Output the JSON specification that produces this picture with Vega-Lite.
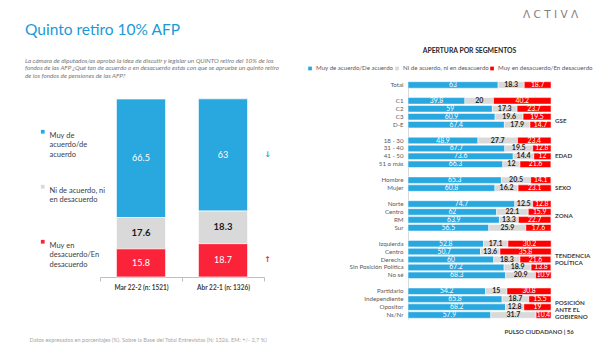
{
  "$schema": "https://vega.github.io/schema/vega-lite/v6.json",
  "background": "white",
  "padding": {"left": 25, "top": 10, "right": 6, "bottom": 6},
  "title": {"text": "Λ C T I V Λ", "anchor": "start", "frame": "group", "fontSize": 10.5, "color": "#808080", "font": "DejaVu Sans", "fontWeight": "normal", "offset": 2, "dx": 423},
  "bounds": "flush",
  "spacing": 144,
  "resolve": {"scale": {"color": "independent", "x": "independent", "y": "independent"}, "legend": {"color": "independent"}},
  "config": {"view": {"stroke": null}, "font": "Lato"},
  "hconcat": [
    {
      "width": 164,
      "height": 196,
      "title": {
        "text": "Quinto retiro 10% AFP",
        "subtitle": [
          "La cámara de diputados/as aprobó la idea de discutir y legislar un QUINTO retiro del 10% de los",
          "fondos de las AFP ¿Qué tan de acuerdo o en desacuerdo estás con que se apruebe un quinto retiro",
          "de los fondos de pensiones de las AFP?"
        ],
        "anchor": "start", "frame": "group", "dx": -75, "offset": 2,
        "fontSize": 15.5, "fontWeight": "normal", "color": "#1a9ad6",
        "subtitleFontSize": 6.3, "subtitleFontStyle": "italic", "subtitleColor": "#767676",
        "subtitleLineHeight": 7.3, "subtitlePadding": 20
      },
      "data": {"values": [
        {"period": "Mar 22-2 (n: 1521)", "cat": "Muy de acuerdo/de acuerdo", "v": 66.5, "sig": ""},
        {"period": "Mar 22-2 (n: 1521)", "cat": "Ni de acuerdo, ni en desacuerdo", "v": 17.6, "sig": ""},
        {"period": "Mar 22-2 (n: 1521)", "cat": "Muy en desacuerdo/En desacuerdo", "v": 15.8, "sig": ""},
        {"period": "Abr 22-1 (n: 1326)", "cat": "Muy de acuerdo/de acuerdo", "v": 63, "sig": "↓"},
        {"period": "Abr 22-1 (n: 1326)", "cat": "Ni de acuerdo, ni en desacuerdo", "v": 18.3, "sig": ""},
        {"period": "Abr 22-1 (n: 1326)", "cat": "Muy en desacuerdo/En desacuerdo", "v": 18.7, "sig": "↑"}
      ]},
      "transform": [
        {"calculate": "indexof(['Muy en desacuerdo/En desacuerdo','Ni de acuerdo, ni en desacuerdo','Muy de acuerdo/de acuerdo'], datum.cat)", "as": "ord"},
        {"stack": "v", "groupby": ["period"], "sort": [{"field": "ord", "order": "ascending"}], "as": ["v0", "v1"]},
        {"calculate": "(datum.v0 + datum.v1) / 2", "as": "mid"}
      ],
      "encoding": {
        "x": {
          "field": "period", "type": "nominal",
          "sort": ["Mar 22-2 (n: 1521)", "Abr 22-1 (n: 1326)"],
          "scale": {"paddingInner": 0, "paddingOuter": 0},
          "axis": {
            "title": "Datos expresados en porcentajes (%). Sobre la Base del Total Entrevistas (N: 1326. EM: +/- 2,7 %)",
            "labelAngle": 0, "labelFontSize": 6.5, "labelFontWeight": "bold", "labelColor": "#404040", "labelPadding": 3,
            "domainColor": "#bfbfbf", "tickColor": "#bfbfbf", "tickSize": 4, "tickBand": "extent",
            "titleX": -71, "titleY": 62, "titleAlign": "left", "titleAnchor": "start", "titleBaseline": "middle",
            "titleFontSize": 5.6, "titleFontWeight": "normal", "titleColor": "#a6a6a6"
          }
        }
      },
      "layer": [
        {
          "mark": {"type": "bar", "width": {"band": 0.6}, "stroke": "white", "strokeWidth": 0.7},
          "encoding": {
            "y": {"field": "v0", "type": "quantitative", "scale": {"domain": [0, 110], "nice": false}, "axis": null},
            "y2": {"field": "v1"},
            "color": {
              "field": "cat", "type": "nominal",
              "scale": {"domain": ["Muy de acuerdo/de acuerdo", "Ni de acuerdo, ni en desacuerdo", "Muy en desacuerdo/En desacuerdo"], "range": ["#29a8e0", "#d9d9d9", "#fa2339"]},
              "legend": {
                "orient": "none", "legendX": -61, "legendY": 47, "direction": "vertical", "title": null,
                "symbolType": "square", "symbolSize": 14, "symbolStrokeWidth": 0,
                "labelFontSize": 7.5, "labelColor": "#404040", "labelOffset": 3, "labelLimit": 0,
                "labelBaseline": "top", "rowPadding": 24,
                "labelExpr": "datum.label == 'Muy de acuerdo/de acuerdo' ? ['Muy de', 'acuerdo/de', 'acuerdo'] : datum.label == 'Ni de acuerdo, ni en desacuerdo' ? ['Ni de acuerdo, ni', 'en desacuerdo', ''] : ['Muy en', 'desacuerdo/En', 'desacuerdo']"
              }
            }
          }
        },
        {
          "transform": [{"filter": "datum.cat != 'Ni de acuerdo, ni en desacuerdo'"}],
          "mark": {"type": "text", "color": "white", "fontSize": 9, "baseline": "middle"},
          "encoding": {
            "y": {"field": "mid", "type": "quantitative"},
            "text": {"field": "v", "type": "nominal"}
          }
        },
        {
          "transform": [{"filter": "datum.cat == 'Ni de acuerdo, ni en desacuerdo'"}],
          "mark": {"type": "text", "color": "#1a1a1a", "fontSize": 9.5, "fontWeight": "bold", "baseline": "middle"},
          "encoding": {
            "y": {"field": "mid", "type": "quantitative"},
            "text": {"field": "v", "type": "nominal"}
          }
        },
        {
          "transform": [{"filter": "datum.sig != ''"}],
          "mark": {"type": "text", "dx": 44.5, "fontSize": 8, "fontWeight": "bold", "baseline": "middle", "font": "DejaVu Sans"},
          "encoding": {
            "y": {"field": "mid", "type": "quantitative"},
            "text": {"field": "sig", "type": "nominal"},
            "color": {"condition": {"test": "datum.sig == '↑'", "value": "#fa2339"}, "value": "#29a8e0"}
          }
        }
      ]
    },
    {
      "width": 143,
      "height": 238,
      "title": {"text": "APERTURA POR SEGMENTOS", "anchor": "middle", "frame": "group", "dx": -10, "fontSize": 6.8, "fontWeight": "bold", "color": "#262626", "offset": 10},
      "encoding": {
        "y": {
          "field": "seg", "type": "nominal",
          "scale": {
            "domain": ["Total", " ", "C1", "C2", "C3", "D-E", "  ", "18 - 30", "31 - 40", "41 - 50", "51 o más", "   ", "Hombre", "Mujer", "    ", "Norte", "Centro", "RM", "Sur", "     ", "Izquierda", "Centro ", "Derecha", "Sin Posición Política", "No sé", "      ", "Partidario", "Independiente", "Opositor", "Ns/Nr"],
            "paddingInner": 0.18, "paddingOuter": 0.09
          },
          "axis": {"title": null, "domainColor": "#d9d9d9", "ticks": false, "labelFontSize": 6.2, "labelColor": "#595959", "labelPadding": 5}
        }
      },
      "layer": [
        {
          "data": {"values": [
            {"seg": "Total", "a": 63, "n": 18.3, "d": 18.7},
            {"seg": "C1", "a": 39.8, "n": 20, "d": 40.2},
            {"seg": "C2", "a": 59, "n": 17.3, "d": 23.7},
            {"seg": "C3", "a": 60.9, "n": 19.6, "d": 19.5},
            {"seg": "D-E", "a": 67.4, "n": 17.9, "d": 14.7},
            {"seg": "18 - 30", "a": 48.9, "n": 27.7, "d": 23.4},
            {"seg": "31 - 40", "a": 67.7, "n": 19.5, "d": 12.8},
            {"seg": "41 - 50", "a": 73.6, "n": 14.4, "d": 12},
            {"seg": "51 o más", "a": 66.3, "n": 12, "d": 21.6},
            {"seg": "Hombre", "a": 65.3, "n": 20.5, "d": 14.1},
            {"seg": "Mujer", "a": 60.8, "n": 16.2, "d": 23.1},
            {"seg": "Norte", "a": 74.7, "n": 12.5, "d": 12.8},
            {"seg": "Centro", "a": 62, "n": 22.1, "d": 15.9},
            {"seg": "RM", "a": 63.9, "n": 13.3, "d": 22.7},
            {"seg": "Sur", "a": 56.5, "n": 25.9, "d": 17.6},
            {"seg": "Izquierda", "a": 52.8, "n": 17.1, "d": 30.2},
            {"seg": "Centro ", "a": 50.7, "n": 13.6, "d": 35.8},
            {"seg": "Derecha", "a": 60, "n": 18.3, "d": 21.6},
            {"seg": "Sin Posición Política", "a": 67.2, "n": 18.9, "d": 13.8},
            {"seg": "No sé", "a": 68.3, "n": 20.9, "d": 10.9},
            {"seg": "Partidario", "a": 54.2, "n": 15, "d": 30.8},
            {"seg": "Independiente", "a": 65.8, "n": 18.7, "d": 15.5},
            {"seg": "Opositor", "a": 68.2, "n": 12.8, "d": 19},
            {"seg": "Ns/Nr", "a": 57.9, "n": 31.7, "d": 10.4}
          ]},
          "transform": [
            {"fold": ["a", "n", "d"], "as": ["k", "v"]},
            {"calculate": "indexof(['a','n','d'], datum.k)", "as": "ord"},
            {"calculate": "datum.k == 'a' ? 'Muy de acuerdo/De acuerdo' : datum.k == 'n' ? 'Ni de acuerdo, ni en desacuerdo' : 'Muy en desacuerdo/En desacuerdo'", "as": "cat"},
            {"stack": "v", "groupby": ["seg"], "sort": [{"field": "ord", "order": "ascending"}], "as": ["v0", "v1"]},
            {"calculate": "(datum.v0 + datum.v1) / 2", "as": "mid"}
          ],
          "layer": [
            {
              "mark": {"type": "bar", "stroke": "white", "strokeWidth": 0.5},
              "encoding": {
                "x": {
                  "field": "v0", "type": "quantitative", "scale": {"domain": [0, 100], "nice": false},
                  "axis": {
                    "title": "PULSO CIUDADANO  |  56", "labels": false, "ticks": false, "domain": false, "grid": false,
                    "titleX": 96, "titleY": 12, "titleAlign": "left", "titleAnchor": "start", "titleBaseline": "middle",
                    "titleFontSize": 6, "titleFontWeight": "bold", "titleColor": "#404040"
                  }
                },
                "x2": {"field": "v1"},
                "color": {
                  "field": "cat", "type": "nominal",
                  "scale": {"domain": ["Muy de acuerdo/De acuerdo", "Ni de acuerdo, ni en desacuerdo", "Muy en desacuerdo/En desacuerdo"], "range": ["#29a8e0", "#d9d9d9", "#ff0000"]},
                  "legend": {
                    "orient": "none", "legendX": -101, "legendY": -16, "direction": "horizontal", "title": null,
                    "symbolType": "square", "symbolSize": 14, "symbolStrokeWidth": 0,
                    "labelFontSize": 6.1, "labelColor": "#595959", "labelOffset": 3, "columnPadding": 0, "labelLimit": 0
                  }
                }
              }
            },
            {
              "transform": [{"filter": "datum.k != 'n'"}],
              "mark": {"type": "text", "color": "white", "fontSize": 6.8, "baseline": "middle"},
              "encoding": {
                "x": {"field": "mid", "type": "quantitative"},
                "text": {"field": "v", "type": "nominal"}
              }
            },
            {
              "transform": [{"filter": "datum.k == 'n'"}],
              "mark": {"type": "text", "color": "#262626", "fontSize": 7, "fontWeight": "bold", "baseline": "middle"},
              "encoding": {
                "x": {"field": "mid", "type": "quantitative"},
                "text": {"field": "v", "type": "nominal"}
              }
            }
          ]
        },
        {
          "data": {"values": [
            {"grp": "GSE", "seg": "D-E"},
            {"grp": "EDAD", "seg": "41 - 50"},
            {"grp": "SEXO", "seg": "Mujer"},
            {"grp": "ZONA", "seg": "RM"},
            {"grp": "TENDENCIA\nPOLÍTICA", "seg": "Derecha"},
            {"grp": "POSICIÓN\nANTE EL\nGOBIERNO", "seg": "Opositor"}
          ]},
          "layer": [
            {
              "transform": [{"filter": "datum.grp == 'EDAD' || datum.grp == 'SEXO'"}],
              "mark": {"type": "text", "align": "left", "baseline": "middle", "dx": 4, "fontSize": 6.2, "fontWeight": "bold", "color": "#404040", "lineBreak": "\n", "lineHeight": 7.2},
              "encoding": {
                "x": {"datum": 100, "type": "quantitative"},
                "text": {"field": "grp", "type": "nominal"}
              }
            },
            {
              "transform": [{"filter": "datum.grp != 'EDAD' && datum.grp != 'SEXO'"}],
              "mark": {"type": "text", "align": "left", "baseline": "middle", "dx": 4, "dy": -4, "fontSize": 6.2, "fontWeight": "bold", "color": "#404040", "lineBreak": "\n", "lineHeight": 7.2},
              "encoding": {
                "x": {"datum": 100, "type": "quantitative"},
                "text": {"field": "grp", "type": "nominal"}
              }
            }
          ]
        }
      ]
    }
  ]
}
